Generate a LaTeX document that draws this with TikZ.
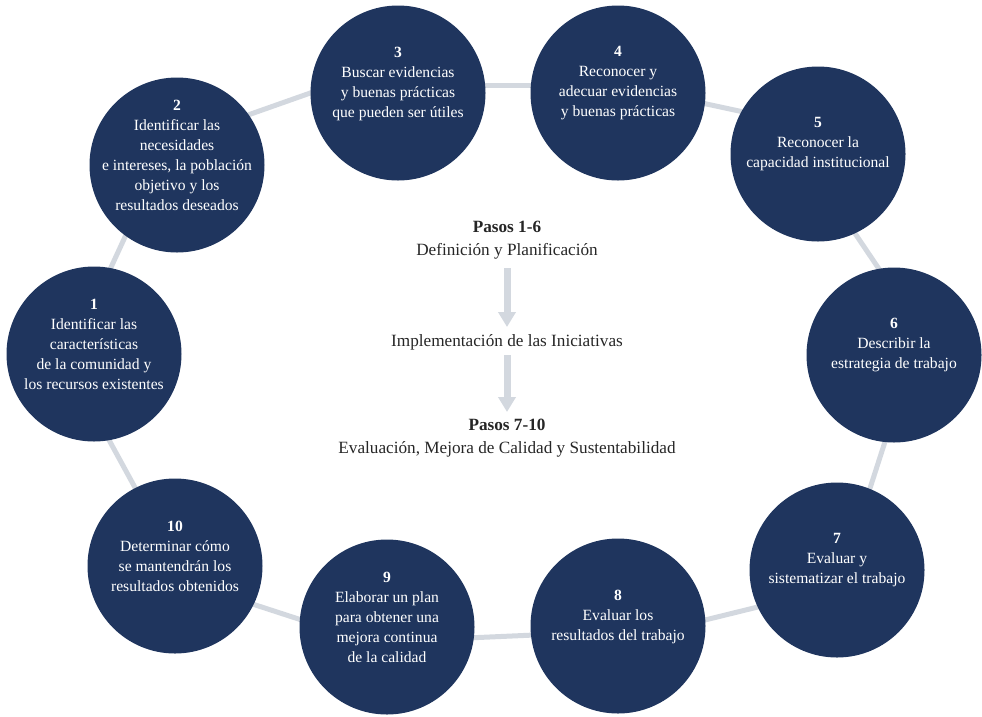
\documentclass[tikz,border=0pt]{standalone}
\usepackage{fontspec}
\setmainfont{Liberation Serif}
\usetikzlibrary{arrows.meta,backgrounds}
\definecolor{navy}{HTML}{1F355E}
\definecolor{ringgray}{HTML}{D3D8DF}
\begin{document}
\begin{tikzpicture}[x=1pt,y=-1pt,
  stepcircle/.style={circle,fill=navy,draw=none,minimum size=175pt,inner sep=0pt},
  ctext/.style={text=white,align=center,font=\fontsize{15.6}{20}\selectfont,inner sep=0pt},
  mtext/.style={text=black!85,align=center,font=\fontsize{17.2}{23}\selectfont,inner sep=0pt},
  ring/.style={draw=ringgray,line width=5pt,shorten <=-4pt,shorten >=-4pt},
  flow/.style={draw=ringgray,line width=7pt,-{Triangle[width=17pt,length=15pt]}}]
\useasboundingbox (0,0) rectangle (982,716);
\node[stepcircle] (c1) at (94,354) {};
\node[stepcircle] (c2) at (177,165) {};
\node[stepcircle] (c3) at (398,93) {};
\node[stepcircle] (c4) at (618,93) {};
\node[stepcircle] (c5) at (818,154) {};
\node[stepcircle] (c6) at (894,355) {};
\node[stepcircle] (c7) at (837,570) {};
\node[stepcircle] (c8) at (618,626) {};
\node[stepcircle] (c9) at (387,627) {};
\node[stepcircle] (c10) at (175,566) {};
\begin{pgfonlayer}{background}
\draw[ring] (c1.79) -- (c2.234);
\draw[ring] (c2.35) -- (c3.180);
\draw[ring] (c3.5) -- (c4.175);
\draw[ring] (c4.353) -- (c5.151);
\draw[ring] (c5.295) -- (c6.100);
\draw[ring] (c6.264) -- (c7.68);
\draw[ring] (c7.205) -- (c8.4);
\draw[ring] (c8.186) -- (c9.353);
\draw[ring] (c9.175) -- (c10.334);
\draw[ring] (c10.117) -- (c1.280);
\end{pgfonlayer}
\node[ctext] (t1) at ([yshift=9.5pt]c1.center) {\textbf{1}\\Identificar las\\características\\de la comunidad y\\los recursos existentes};
\node[ctext] (t2) at ([yshift=9.5pt]c2.center) {\textbf{2}\\Identificar las\\necesidades\\e intereses, la población\\objetivo y los\\resultados deseados};
\node[ctext] (t3) at ([yshift=9.5pt]c3.center) {\textbf{3}\\Buscar evidencias\\y buenas prácticas\\que pueden ser útiles};
\node[ctext] (t4) at ([yshift=9.5pt]c4.center) {\textbf{4}\\Reconocer y\\adecuar evidencias\\y buenas prácticas};
\node[ctext] (t5) at ([yshift=9.5pt]c5.center) {\textbf{5}\\Reconocer la\\capacidad institucional};
\node[ctext] (t6) at ([yshift=9.5pt]c6.center) {\textbf{6}\\Describir la\\estrategia de trabajo};
\node[ctext] (t7) at ([yshift=9.5pt]c7.center) {\textbf{7}\\Evaluar y\\sistematizar el trabajo};
\node[ctext] (t8) at ([yshift=9.5pt]c8.center) {\textbf{8}\\Evaluar los\\resultados del trabajo};
\node[ctext] (t9) at ([yshift=9.5pt]c9.center) {\textbf{9}\\Elaborar un plan\\para obtener una\\mejora continua\\de la calidad};
\node[ctext] (t10) at ([yshift=9.5pt]c10.center) {\textbf{10}\\Determinar cómo\\se mantendrán los\\resultados obtenidos};
\node[mtext] (p1) at (507,240) {\textbf{Pasos 1-6}\\Definición y Planificación};
\node[mtext] (imp) at (507,342) {Implementación de las Iniciativas};
\node[mtext] (p2) at (507,438) {\textbf{Pasos 7-10}\\Evaluación, Mejora de Calidad y Sustentabilidad};
\coordinate (a1s) at (507,268);
\coordinate (a1e) at (507,327);
\coordinate (a2s) at (507,355);
\coordinate (a2e) at (507,412);
\draw[flow] (a1s) -- (a1e);
\draw[flow] (a2s) -- (a2e);
\end{tikzpicture}
\end{document}
